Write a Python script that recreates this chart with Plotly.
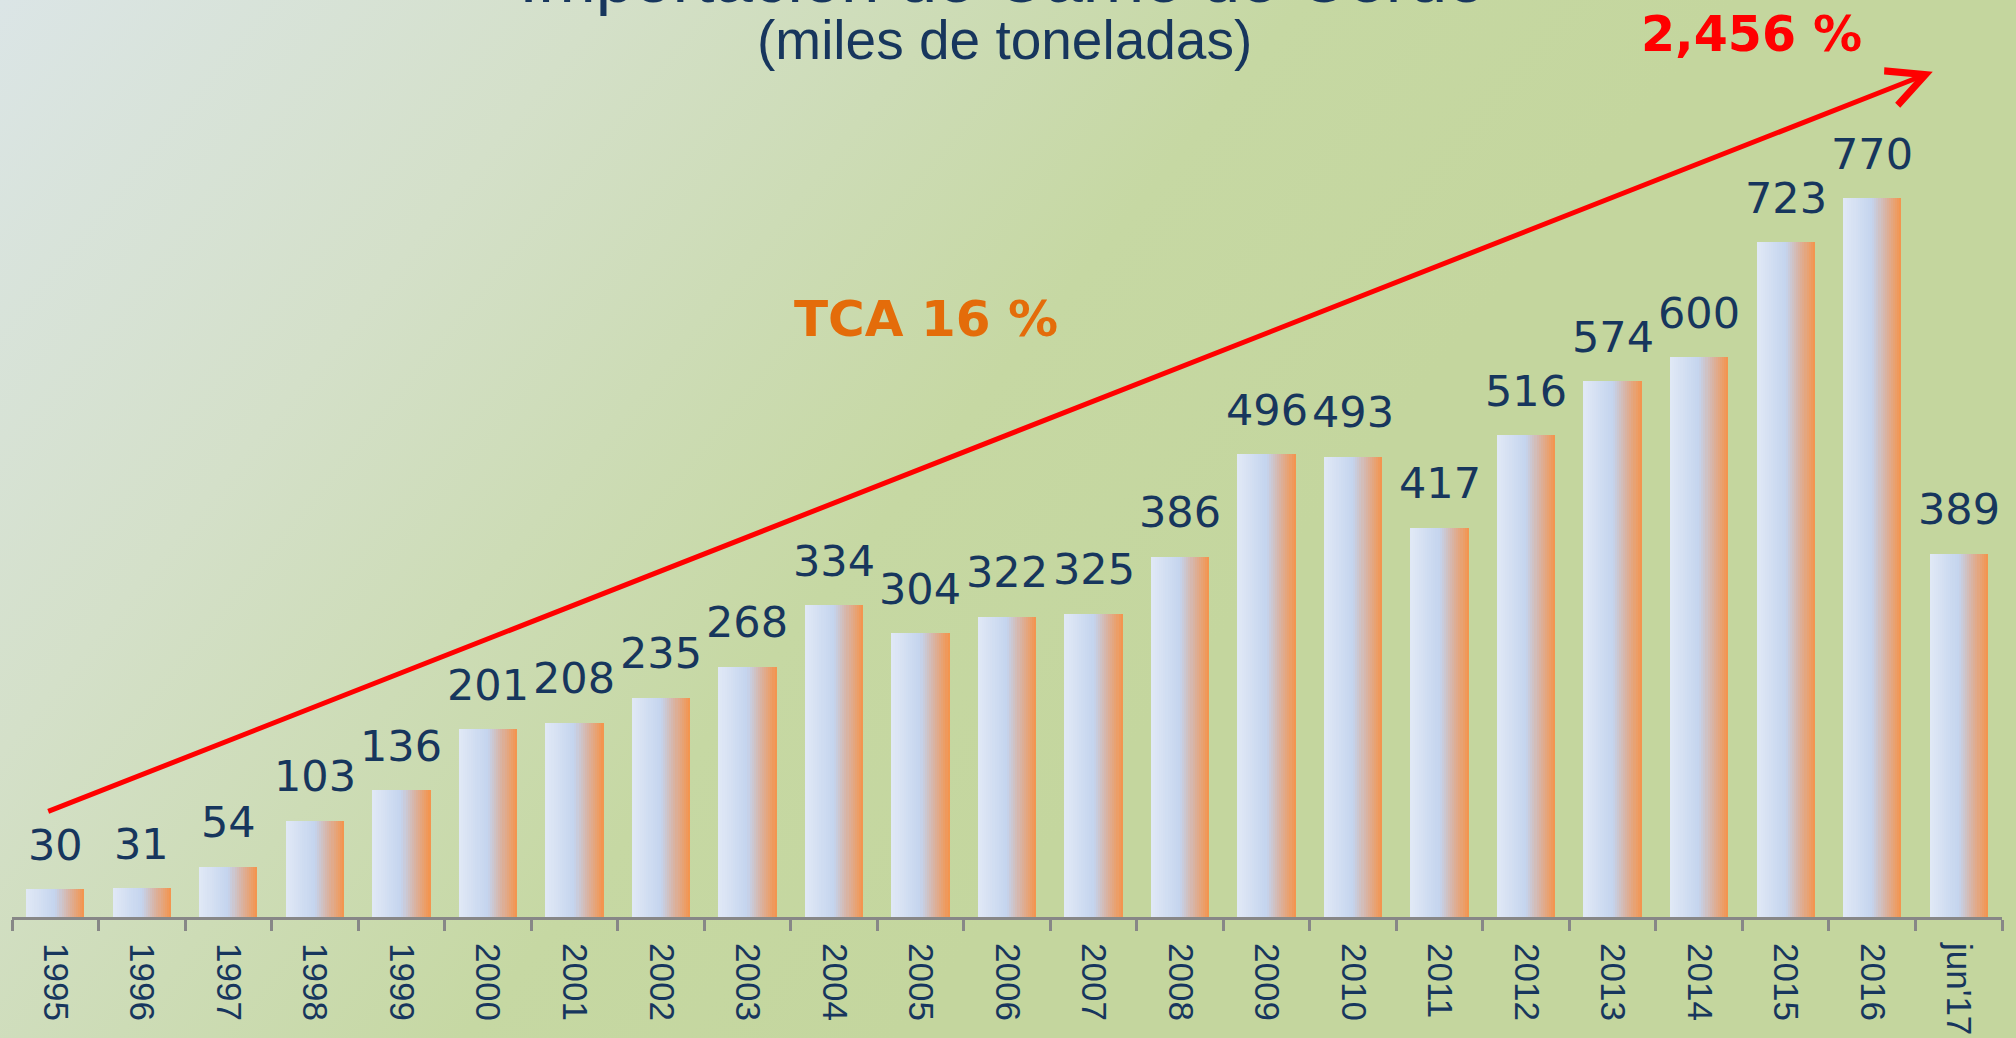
import base64
import plotly.graph_objects as go

# ---------------- data ----------------
categories = ["1995", "1996", "1997", "1998", "1999", "2000", "2001", "2002",
              "2003", "2004", "2005", "2006", "2007", "2008", "2009", "2010",
              "2011", "2012", "2013", "2014", "2015", "2016", "jun'17"]
values = [30, 31, 54, 103, 136, 201, 208, 235, 268, 334, 304, 322, 325, 386,
          496, 493, 417, 516, 574, 600, 723, 770, 389]
title_text = "Importación de Carne de Cerdo"
subtitle_text = "(miles de toneladas)"
growth_label = "2,456 %"
tca_label = "TCA 16 %"

# ---------------- layout constants ----------------
W, H = 2016, 1038
ML, MR, MT, MB = 12, 14, 20, 121
PW, PH = W - ML - MR, H - MT - MB
YMAX = 961.2
NAVY = "#17365D"
AXIS_GREY = "#878787"

# background gradient (decorative image)
svg = (f'<svg xmlns="http://www.w3.org/2000/svg" width="{W}" height="{H}" viewBox="0 0 {W} {H}" preserveAspectRatio="none">'
       '<defs><linearGradient id="g" gradientUnits="userSpaceOnUse" x1="0" y1="0" x2="1050" y2="850">'
       '<stop offset="0" stop-color="#dbe5e6"/>'
       '<stop offset="0.35" stop-color="#d4e0c9"/>'
       '<stop offset="0.75" stop-color="#c6d8a3"/>'
       '<stop offset="1" stop-color="#c4d69e"/>'
       '</linearGradient></defs>'
       f'<rect width="{W}" height="{H}" fill="url(#g)"/></svg>')
bg_src = "data:image/svg+xml;base64," + base64.b64encode(svg.encode()).decode()

# bar horizontal gradient stops
bar_stops = [(0.0, (225, 233, 246)), (0.5, (196, 212, 238)),
             (0.72, (216, 180, 166)), (1.0, (245, 147, 74))]


def grad_color(t):
    for (t0, c0), (t1, c1) in zip(bar_stops[:-1], bar_stops[1:]):
        if t0 <= t <= t1:
            f = (t - t0) / (t1 - t0)
            c = [round(a + (b - a) * f) for a, b in zip(c0, c1)]
            return f"rgb({c[0]},{c[1]},{c[2]})"
    return "rgb(245,147,74)"


N_STRIPS = 28
BAR_W = 0.674
strip_w = BAR_W / N_STRIPS

fig = go.Figure()
for k in range(N_STRIPS):
    t = (k + 0.5) / N_STRIPS
    fig.add_trace(go.Bar(
        x=categories, y=values,
        offset=-BAR_W / 2 + k * strip_w,
        width=strip_w * (1.6 if k < N_STRIPS - 1 else 1.0),
        marker=dict(color=grad_color(t), line=dict(width=0)),
        hoverinfo="skip", showlegend=False,
    ))

annotations = []
# value labels
for i, v in enumerate(values):
    annotations.append(dict(
        x=i, y=v, xref="x", yref="y", text=str(v), showarrow=False,
        yanchor="bottom", xanchor="center", yshift=17.5,
        font=dict(family="DejaVu Sans", size=43, color=NAVY)))

# growth arrow
annotations.append(dict(
    x=21.70, y=905.8, ax=-0.099, ay=112.5, xref="x", yref="y",
    axref="x", ayref="y", text="", showarrow=True,
    arrowhead=5, arrowwidth=5, arrowsize=1.45, arrowcolor="#FF0000"))

annotations += [
    dict(x=(1002 - ML) / PW, y=1, xref="paper", yref="paper", text=title_text,
         showarrow=False, xanchor="center", yanchor="bottom", yshift=1,
         font=dict(family="Liberation Sans", size=69, color=NAVY)),
    dict(x=(1004 - ML) / PW, y=1, xref="paper", yref="paper", text=subtitle_text,
         showarrow=False, xanchor="center", yanchor="middle", yshift=-19.5,
         font=dict(family="Liberation Sans", size=55, color=NAVY)),
    dict(x=19.61, y=946, xref="x", yref="y", text=growth_label, showarrow=False,
         xanchor="center", yanchor="middle",
         font=dict(family="DejaVu Sans", size=49, color="#FF0000", weight="bold")),
    dict(x=10.06, y=640.8, xref="x", yref="y", text=tca_label, showarrow=False,
         xanchor="center", yanchor="middle",
         font=dict(family="DejaVu Sans", size=50, color="#E46C0A", weight="bold")),
]

fig.update_layout(
    template="none",
    width=W, height=H, autosize=False,
    margin=dict(l=ML, r=MR, t=MT, b=MB, pad=0, autoexpand=False),
    paper_bgcolor="#c8d9a8", plot_bgcolor="rgba(0,0,0,0)",
    barmode="overlay", bargap=0,
    showlegend=False,
    images=[dict(source=bg_src, xref="paper", yref="paper",
                 x=-ML / PW, y=1 + MT / PH, sizex=W / PW, sizey=H / PH,
                 xanchor="left", yanchor="top", sizing="stretch", layer="below")],
    annotations=annotations,
    xaxis=dict(type="category", range=[-0.5, len(categories) - 0.5],
               automargin=False,
               showline=True, linecolor=AXIS_GREY, linewidth=3,
               ticks="outside", tickson="boundaries", ticklen=11, tickwidth=3,
               tickcolor=AXIS_GREY, tickangle=90, ticklabelstandoff=16,
               tickfont=dict(family="Liberation Sans", size=35, color=NAVY),
               showgrid=False, zeroline=False, fixedrange=True),
    yaxis=dict(range=[0, YMAX], visible=False, fixedrange=True, automargin=False),
)

fig.write_html(
    "out.html",
    config={"displayModeBar": False},
    post_script="document.body.style.margin='0';document.body.style.overflow='hidden';",
)
